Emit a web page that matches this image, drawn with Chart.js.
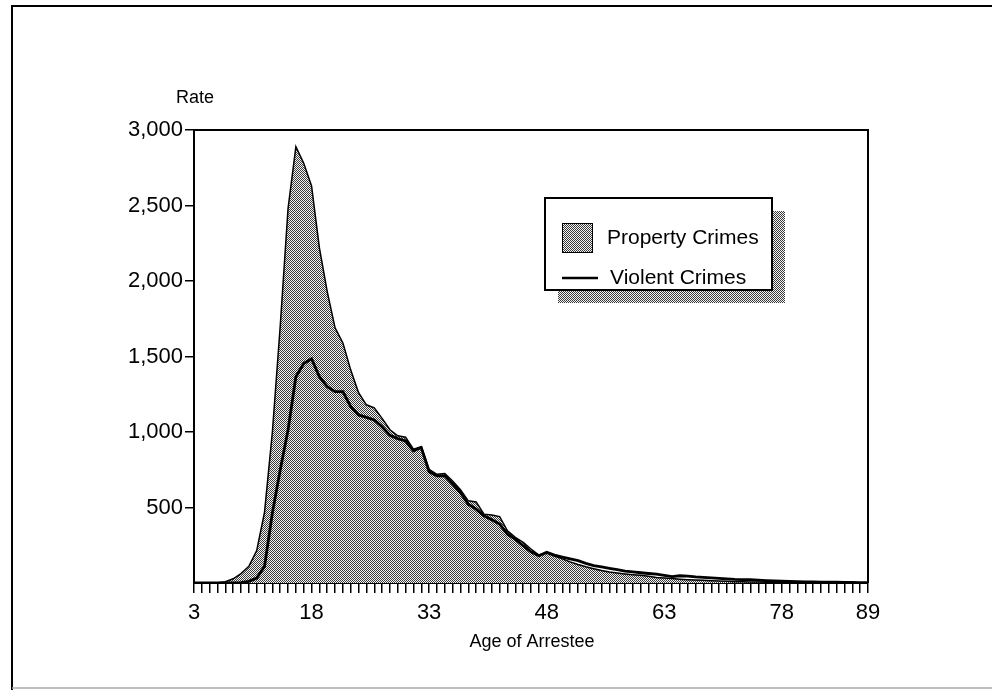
<!DOCTYPE html>
<html><head><meta charset="utf-8">
<script src="https://cdn.jsdelivr.net/npm/chart.js@4.4.1/dist/chart.umd.min.js"></script>
<style>html,body{margin:0;padding:0;background:#fff}#wrap{width:992px;height:690px;position:relative}</style>
</head><body><div id="wrap"><canvas id="c" width="992" height="690"></canvas></div>
<script>
const ages = [3,4,5,6,7,8,9,10,11,12,13,14,15,16,17,18,19,20,21,22,23,24,25,26,27,28,29,30,31,32,33,34,35,36,37,38,39,40,41,42,43,44,45,46,47,48,49,50,51,52,53,54,55,56,57,58,59,60,61,62,63,64,65,66,67,68,69,70,71,72,73,74,75,76,77,78,79,80,81,82,83,84,85,86,87,88,89];
const propertyCrimes = [0,0,0,2,8,28,62,110,215,470,1000,1700,2480,2890,2780,2630,2220,1930,1690,1590,1410,1260,1180,1160,1090,1015,975,965,886,903,753,720,725,676,617,544,537,456,450,440,346,302,269,225,185,200,178,160,140,123,108,95,83,73,66,60,55,51,44,37,33,29,25,22,20,18,15,13,11,9,8,7,6,5,4,4,3,3,2,2,2,2,1,1,1,1,1];
const violentCrimes = [0,0,0,0,0,0,3,11,33,110,463,749,1013,1366,1454,1485,1366,1300,1267,1267,1168,1113,1097,1080,1035,978,956,941,875,897,736,710,710,655,599,522,489,445,419,390,324,291,247,207,181,203,185,172,160,148,130,115,106,97,88,79,73,68,63,59,50,42,48,46,40,37,34,31,27,24,23,22,19,16,14,12,10,9,8,7,6,5,5,4,4,3,3];
const xTickLabels = [3,18,33,48,63,78,89];
const seriesLabels = ['Property Crimes','Violent Crimes'];
const yTitle = 'Rate';
const xTitle = 'Age of Arrestee';
const FF = '"Liberation Sans", Arial, Helvetica, sans-serif';

function makePattern(ctx){
  const c=document.createElement('canvas'); c.width=4; c.height=4;
  const x=c.getContext('2d');
  x.fillStyle='#f4f4f4'; x.fillRect(0,0,4,4);
  x.fillStyle='#3a3a3a';
  for(let i=0;i<4;i++) for(let j=0;j<4;j++) if((i+j)%2===0) x.fillRect(i,j,1,1);
  return ctx.createPattern(c,'repeat');
}
const canvas=document.getElementById('c');
const ctx0=canvas.getContext('2d');
const pattern=makePattern(ctx0);

const fmt=v=>String(v).replace(/\B(?=(\d{3})+(?!\d))/g,',');

const decor={
  id:'decor',
  beforeDraw(chart){
    const ctx=chart.ctx; ctx.save();
    ctx.fillStyle='#fff'; ctx.fillRect(0,0,chart.width,chart.height);
    ctx.strokeStyle='#000'; ctx.lineWidth=2;
    ctx.beginPath(); ctx.moveTo(12,690); ctx.lineTo(12,6); ctx.lineTo(992,6); ctx.stroke();
    ctx.strokeStyle='#aaa'; ctx.lineWidth=1.5;
    ctx.beginPath(); ctx.moveTo(12,688); ctx.lineTo(992,688); ctx.stroke();
    ctx.restore();
  },
  afterDraw(chart){
    const ctx=chart.ctx, a=chart.chartArea; ctx.save();
    ctx.strokeStyle='#000'; ctx.lineWidth=2;
    ctx.beginPath(); ctx.moveTo(a.left,a.top); ctx.lineTo(a.right,a.top); ctx.lineTo(a.right,a.bottom); ctx.stroke();
    ctx.fillStyle='#000'; ctx.textBaseline='middle'; ctx.textAlign='center';
    ctx.font='18px '+FF; ctx.fillText(yTitle,195,98);
    ctx.fillText(xTitle,532,642);
    // legend
    const ds=chart.data.datasets;
    ctx.fillStyle=pattern; ctx.fillRect(558,211,227,92);
    ctx.fillStyle='#fff'; ctx.fillRect(545,198,227,92);
    ctx.strokeStyle='#000'; ctx.lineWidth=2; ctx.strokeRect(545,198,227,92);
    ctx.fillStyle=pattern; ctx.fillRect(562,223,30,29);
    ctx.lineWidth=1; ctx.strokeRect(562.5,223.5,30,29);
    ctx.lineWidth=2.5; ctx.beginPath(); ctx.moveTo(562,278); ctx.lineTo(598,278); ctx.stroke();
    ctx.fillStyle='#000'; ctx.textAlign='left'; ctx.font='21px '+FF;
    ctx.fillText(ds[0].label,607,238);
    ctx.fillText(ds[1].label,610,278);
    ctx.restore();
  }
};

new Chart(canvas,{
  type:'line',
  data:{datasets:[
    {label:seriesLabels[0],data:propertyCrimes.map((v,i)=>({x:ages[i],y:v})),borderColor:'#000',borderWidth:1.5,backgroundColor:pattern,fill:'origin',pointRadius:0,tension:0,order:1},
    {label:seriesLabels[1],data:violentCrimes.map((v,i)=>({x:ages[i],y:v})),borderColor:'#000',borderWidth:2.8,fill:false,pointRadius:0,tension:0,order:0}
  ]},
  options:{
    responsive:false,animation:false,events:[],
    layout:{padding:{top:130,right:124,bottom:0,left:0}},
    plugins:{legend:{display:false},tooltip:{enabled:false}},
    scales:{
      x:{type:'linear',min:3,max:89,
        ticks:{stepSize:1,autoSkip:false,maxRotation:0,minRotation:0,padding:7,color:'#000',font:{size:22,family:FF},
          callback:v=>xTickLabels.includes(v)?String(v):''},
        grid:{drawOnChartArea:false,drawTicks:true,tickLength:10,color:'#000',lineWidth:1.5},
        border:{display:true,color:'#000',width:2},
        afterFit:s=>{s.height=107;}
      },
      y:{min:0,max:3000,
        ticks:{stepSize:500,padding:2,color:'#000',font:{size:22,family:FF},callback:v=>v===0?'':fmt(v)},
        grid:{drawOnChartArea:false,tickLength:9,lineWidth:1.5,color:c=>(c.tick&&c.tick.value===0)?'rgba(0,0,0,0)':'#000'},
        border:{display:true,color:'#000',width:2},
        afterFit:s=>{s.width=194;}
      }
    }
  },
  plugins:[decor]
});
</script></body></html>
